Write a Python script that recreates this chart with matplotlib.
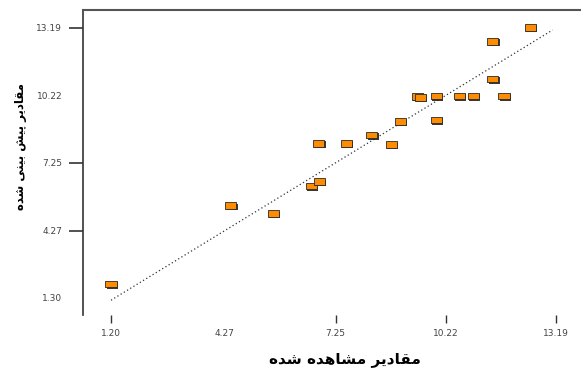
import matplotlib.pyplot as plt
import matplotlib.patheffects as pe

# observed vs predicted values
observed = [1.20, 4.43, 5.57, 6.60, 6.81, 6.80, 7.54, 8.23, 8.75, 8.99,
            9.46, 9.53, 9.97, 9.96, 10.59, 10.96, 11.79, 11.49, 11.49, 12.50]
predicted = [1.91, 5.36, 5.01, 6.23, 6.42, 8.11, 8.11, 8.48, 8.05, 9.06,
             10.16, 10.14, 10.19, 9.14, 10.19, 10.19, 10.19, 10.94, 12.60, 13.22]

x_ticks = [1.20, 4.27, 7.25, 10.22, 13.19]
x_labels = ['1.20', '4.27', '7.25', '10.22', '13.19']
y_ticks = [1.30, 4.27, 7.25, 10.22, 13.19]
y_labels = ['1.30', '4.27', '7.25', '10.22', '13.19']
fit_x = [1.20, 13.10]

x_title = 'مقادیر مشاهده شده'
y_title = 'مقادیر پیش بینی شده'

# presentation forms: isolated, final, initial, medial
FORMS = {
    'م': '\uFEE1\uFEE2\uFEE3\uFEE4',
    'ق': '\uFED5\uFED6\uFED7\uFED8',
    'ش': '\uFEB5\uFEB6\uFEB7\uFEB8',
    'ه': '\uFEE9\uFEEA\uFEEB\uFEEC',
    'ی': '\uFBFC\uFBFD\uFBFE\uFBFF',
    'پ': '\uFB56\uFB57\uFB58\uFB59',
    'ب': '\uFE8F\uFE90\uFE91\uFE92',
    'ن': '\uFEE5\uFEE6\uFEE7\uFEE8',
    'ا': '\uFE8D\uFE8E',
    'د': '\uFEA9\uFEAA',
    'ر': '\uFEAD\uFEAE',
}


def shape(text):
    # matplotlib has no arabic shaping, so pick joined forms by hand
    out = []
    for i, ch in enumerate(text):
        forms = FORMS.get(ch)
        if forms is None:
            out.append(ch)
            continue
        prev = text[i - 1] if i > 0 else ''
        nxt = text[i + 1] if i + 1 < len(text) else ''
        join_prev = len(FORMS.get(prev, '')) == 4
        join_next = len(forms) == 4 and nxt in FORMS
        if join_prev and join_next:
            out.append(forms[3])
        elif join_prev:
            out.append(forms[1])
        elif join_next:
            out.append(forms[2])
        else:
            out.append(forms[0])
    return ''.join(reversed(out))


fig = plt.figure(figsize=(5.81, 3.70), dpi=100)
ax = fig.add_axes([83 / 581, 55 / 370, 498 / 581, 305 / 370])

ax.plot(fit_x, fit_x, color='#333333', linestyle=(0, (1, 2)), linewidth=0.9)

box = [(-1, -0.6), (1, -0.6), (1, 0.6), (-1, 0.6), (-1, -0.6)]
ax.scatter(observed, predicted, marker=box, s=64, color='#ff8c00',
           edgecolors='#2a2a2a', linewidths=0.6, zorder=3,
           path_effects=[pe.withSimplePatchShadow(offset=(1, -1),
                                                  shadow_rgbFace='#222222',
                                                  alpha=0.9)])

ax.set_xlim(0.445, 13.865)
ax.set_ylim(0.55, 13.98)

ax.spines['right'].set_visible(False)
ax.spines['bottom'].set_visible(False)
ax.spines['top'].set_color('#555555')
ax.spines['top'].set_linewidth(1.5)
ax.spines['left'].set_color('#333333')
ax.spines['left'].set_linewidth(1.2)

ax.set_xticks(x_ticks)
ax.set_xticklabels(x_labels)
ax.set_yticks(y_ticks)
ax.set_yticklabels(y_labels)
ax.tick_params(axis='x', length=6, width=1, color='#333333', pad=4,
               labelsize=6.5, labelcolor='#444444')
ax.tick_params(axis='y', length=10, width=1.2, color='#333333', pad=5,
               labelsize=6.5, labelcolor='#444444')

# a few tick marks are not drawn on this chart
ax.xaxis.get_major_ticks()[1].tick1line.set_visible(False)
ax.yaxis.get_major_ticks()[0].tick1line.set_visible(False)
ax.yaxis.get_major_ticks()[3].tick1line.set_visible(False)

ax.set_xlabel(shape(x_title), family='DejaVu Sans',
              fontsize=11, fontweight='bold', va='center')
ax.set_ylabel(shape(y_title), family='DejaVu Sans',
              fontsize=8.5, fontweight='bold', va='center')
ax.xaxis.set_label_coords(0.526, -0.147)
ax.yaxis.set_label_coords(-0.1265, 0.551)

fig.savefig('out.png', dpi=100)
